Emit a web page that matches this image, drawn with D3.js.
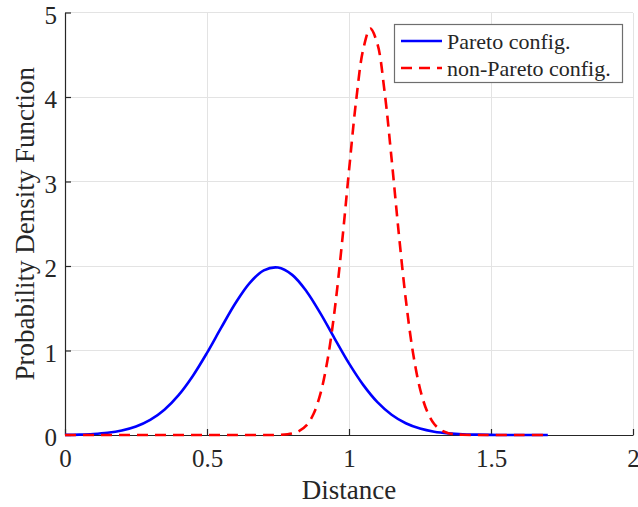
<!DOCTYPE html>
<html>
<head>
<meta charset="utf-8">
<script src="https://cdn.jsdelivr.net/npm/d3@7"></script>
<style>
  html, body { margin: 0; padding: 0; background: #fff; }
  svg text { font-family: "Liberation Serif", "Times New Roman", serif; fill: #262626; }
</style>
</head>
<body>
<svg id="chart" width="638" height="507"></svg>
<script>
// Pareto configurations: distance vs. density
const paretoX = [0, 0.05, 0.1, 0.15, 0.2, 0.25, 0.3, 0.35, 0.4, 0.45, 0.5, 0.55, 0.6, 0.65, 0.7, 0.75,
  0.8, 0.85, 0.9, 0.95, 1.0, 1.05, 1.1, 1.15, 1.2, 1.25, 1.3, 1.35, 1.4, 1.45, 1.5, 1.55, 1.6, 1.65, 1.7];
const paretoY = [0.002, 0.005, 0.012, 0.026, 0.053, 0.100, 0.178, 0.299, 0.472, 0.699, 0.972, 1.270,
  1.559, 1.798, 1.948, 1.982, 1.895, 1.702, 1.436, 1.138, 0.847, 0.593, 0.389, 0.240, 0.139, 0.076,
  0.039, 0.019, 0.008, 0.004, 0.001, 0.0005, 0.0002, 0.0001, 0];

// Non-Pareto configurations: distance vs. density
const nonParetoX = [0, 0.1, 0.2, 0.3, 0.4, 0.5, 0.6, 0.7, 0.75, 0.8, 0.825, 0.85, 0.875, 0.9, 0.925,
  0.95, 0.975, 1.0, 1.025, 1.05, 1.075, 1.1, 1.125, 1.15, 1.175, 1.2, 1.225, 1.25, 1.275, 1.3, 1.325,
  1.35, 1.375, 1.4, 1.45, 1.5, 1.6, 1.7];
const nonParetoY = [0, 0, 0, 0, 0, 0, 0, 0, 0.002, 0.018, 0.048, 0.114, 0.249, 0.495, 0.899,
  1.491, 2.261, 3.128, 3.954, 4.562, 4.809, 4.629, 4.070, 3.267, 2.395, 1.604, 0.981, 0.548, 0.280,
  0.130, 0.056, 0.022, 0.008, 0.003, 0, 0, 0, 0];

const xTicks = [0, 0.5, 1, 1.5, 2];
const xTickLabels = ["0", "0.5", "1", "1.5", "2"];
const yTicks = [0, 1, 2, 3, 4, 5];
const yTickLabels = ["0", "1", "2", "3", "4", "5"];

const seriesNames = ["Pareto config.", "non-Pareto config."];
const xTitle = "Distance";
const yTitle = "Probability Density Function";

const margin = { left: 65, top: 12.5, right: 5, bottom: 72 };
const W = 638, H = 507;
const iw = W - margin.left - margin.right;
const ih = H - margin.top - margin.bottom;

const svg = d3.select("#chart");
const g = svg.append("g").attr("transform", `translate(${margin.left},${margin.top})`);

const x = d3.scaleLinear().domain([0, 2]).range([0, iw]);
const y = d3.scaleLinear().domain([0, 5]).range([ih, 0]);

// grid
g.append("g").selectAll("line").data(xTicks).join("line")
  .attr("x1", d => x(d)).attr("x2", d => x(d)).attr("y1", 0).attr("y2", ih)
  .attr("stroke", "#e3e3e3").attr("stroke-width", 1).attr("shape-rendering", "crispEdges");
g.append("g").selectAll("line").data(yTicks).join("line")
  .attr("x1", 0).attr("x2", iw).attr("y1", d => y(d)).attr("y2", d => y(d))
  .attr("stroke", "#e3e3e3").attr("stroke-width", 1).attr("shape-rendering", "crispEdges");

// axes
const xAxis = d3.axisBottom(x).tickValues(xTicks).tickFormat((d, i) => xTickLabels[i])
  .tickSizeInner(-6).tickSizeOuter(0).tickPadding(14);
const yAxis = d3.axisLeft(y).tickValues(yTicks).tickFormat((d, i) => yTickLabels[i])
  .tickSizeInner(-6).tickSizeOuter(0).tickPadding(14);

const gx = g.append("g").attr("transform", `translate(0,${ih})`).call(xAxis);
const gy = g.append("g").call(yAxis);
[gx, gy].forEach(a => {
  a.attr("font-size", null).attr("font-family", null);
  a.select(".domain").attr("stroke", "#262626").attr("stroke-width", 1.2);
  a.selectAll(".tick line").attr("stroke", "#262626").attr("stroke-width", 1.2);
  a.selectAll(".tick text").style("font-size", "25px").attr("fill", "#262626");
});
gx.selectAll(".tick text").attr("y", 0).attr("dy", null)
  .attr("transform", `translate(0,${32})`);
gy.selectAll(".tick text").attr("dy", "0.42em").attr("x", -8);

// curves
const line = d3.line().x(d => x(d[0])).y(d => y(d[1])).curve(d3.curveCatmullRom.alpha(0.5));
const pareto = paretoX.map((v, i) => [v, paretoY[i]]);
const nonPareto = nonParetoX.map((v, i) => [v, nonParetoY[i]]);

g.append("path").datum(pareto).attr("d", line)
  .attr("fill", "none").attr("stroke", "#0000ff").attr("stroke-width", 2.6);
g.append("path").datum(nonPareto).attr("d", line)
  .attr("fill", "none").attr("stroke", "#ff0000").attr("stroke-width", 2.6)
  .attr("stroke-dasharray", "11,7");

// axis titles
svg.append("text").attr("x", margin.left + x(1)).attr("y", 499)
  .attr("text-anchor", "middle").style("font-size", "27px").text(xTitle);
svg.append("text").attr("transform", `translate(34,${margin.top + ih / 2}) rotate(-90)`)
  .attr("text-anchor", "middle").style("font-size", "27px").text(yTitle);

// legend
const lg = svg.append("g").attr("transform", "translate(394,24)");
lg.append("rect").attr("x", 0.5).attr("y", 0.5).attr("width", 228).attr("height", 58)
  .attr("fill", "#fff").attr("stroke", "#6e6e6e").attr("stroke-width", 1.2);
const styles = [
  { color: "#0000ff", dash: null },
  { color: "#ff0000", dash: "11,7" }
];
seriesNames.forEach((name, i) => {
  const yy = 17 + i * 27;
  lg.append("line").attr("x1", 7).attr("x2", 48).attr("y1", yy).attr("y2", yy)
    .attr("stroke", styles[i].color).attr("stroke-width", 2.6)
    .attr("stroke-dasharray", styles[i].dash);
  lg.append("text").attr("x", 53).attr("y", yy).attr("dy", "0.36em")
    .style("font-size", "22px").text(name);
});
</script>
</body>
</html>
